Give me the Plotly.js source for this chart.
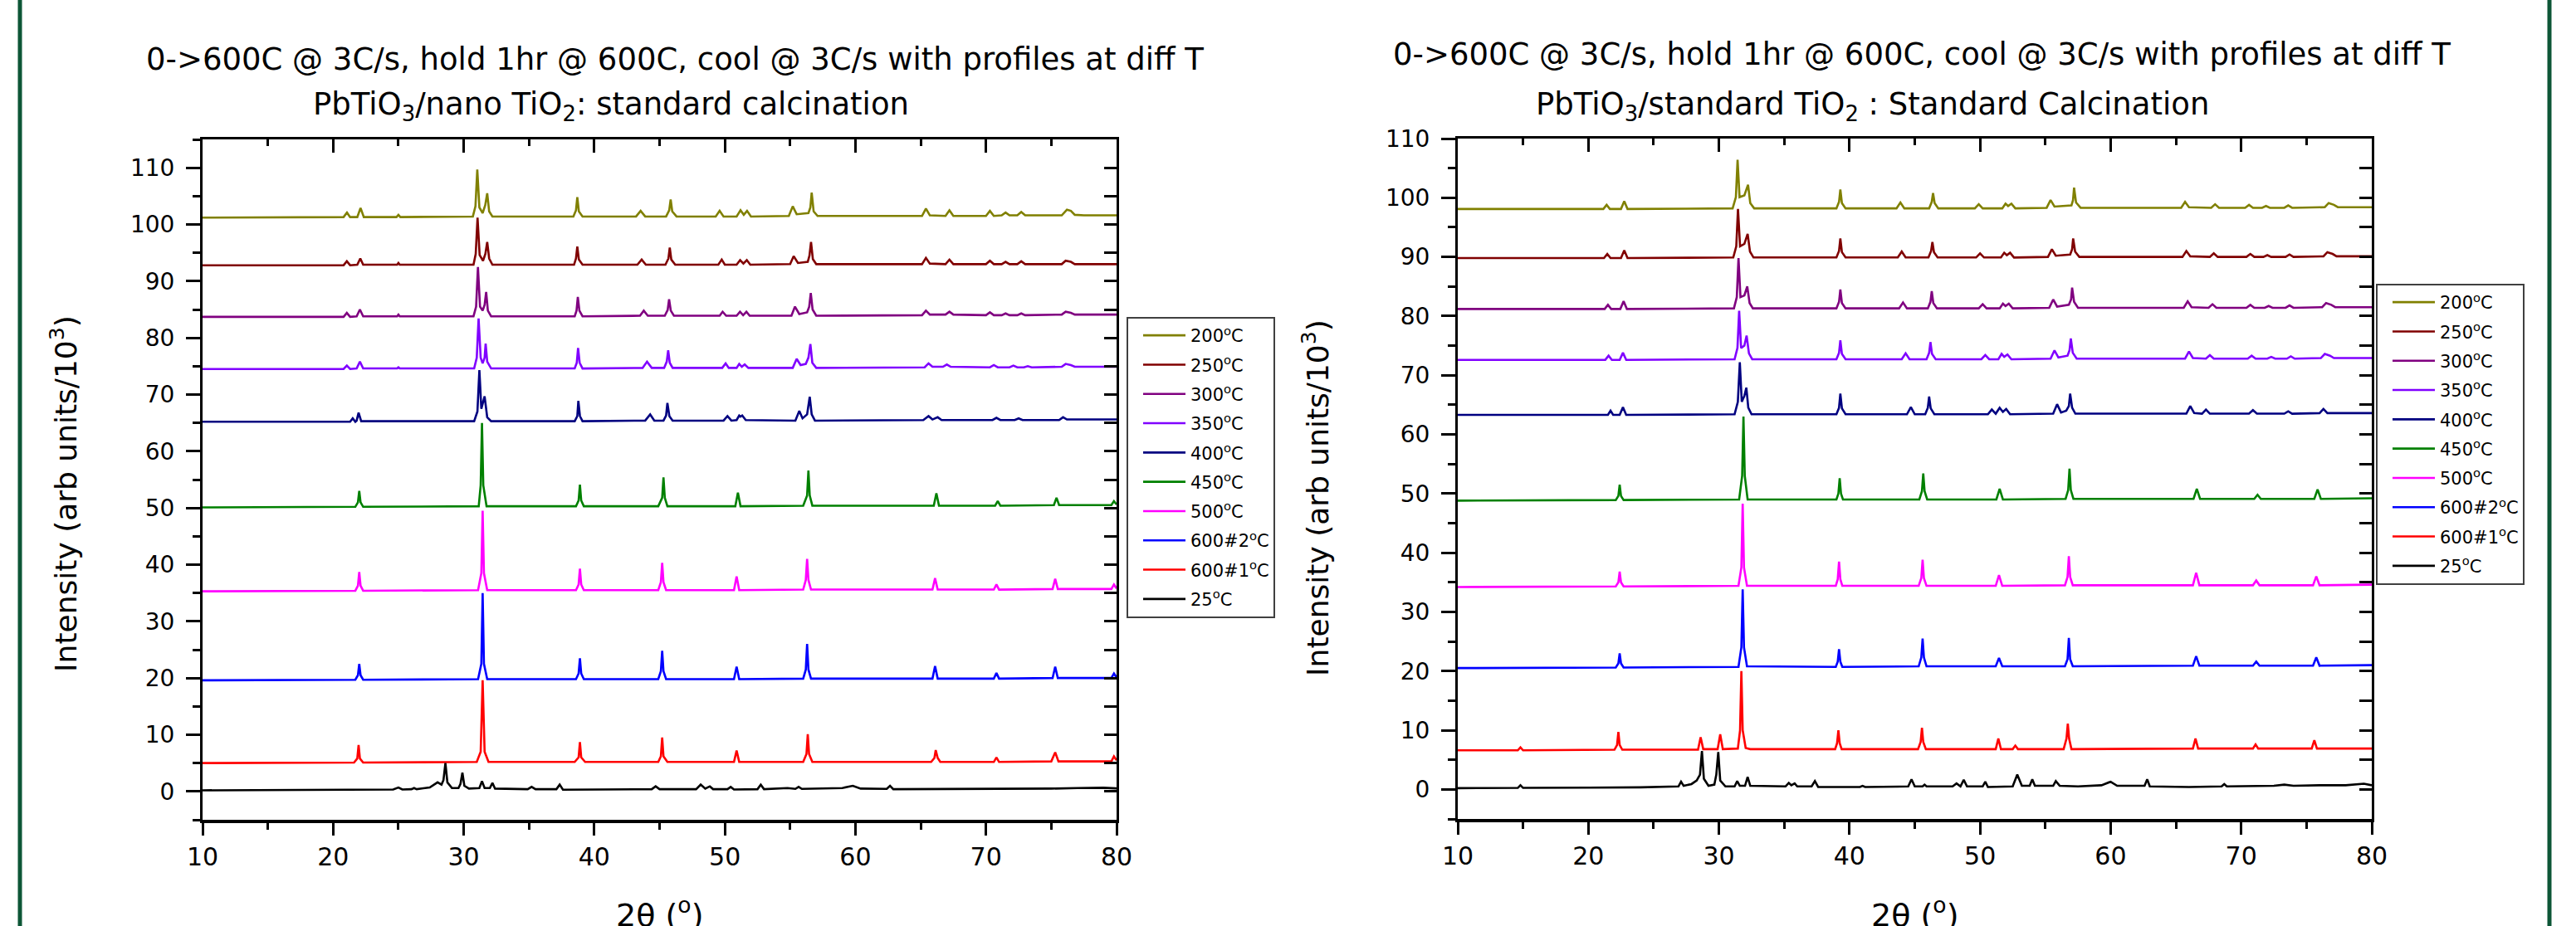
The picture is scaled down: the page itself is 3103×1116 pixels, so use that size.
<!DOCTYPE html>
<html>
<head>
<meta charset="utf-8">
<script src="https://cdn.plot.ly/plotly-3.0.1.min.js"></script>
<style>
  html, body { margin: 0; padding: 0; background: #ffffff; }
  #chart { width: 3103px; height: 1116px; }
</style>
</head>
<body>
<div id="chart"></div>
<script>
// XRD patterns, 2theta (deg) vs intensity (x10^3 counts), offset per temperature step.
// Each profile is a list of [2theta, intensity] points.

const seriesLabels = ['200<sup>o</sup>C', '250<sup>o</sup>C', '300<sup>o</sup>C', '350<sup>o</sup>C', '400<sup>o</sup>C',
                      '450<sup>o</sup>C', '500<sup>o</sup>C', '600#2<sup>o</sup>C', '600#1<sup>o</sup>C', '25<sup>o</sup>C'];
const seriesColors = ['#808000', '#800000', '#800080', '#8000ff', '#000080',
                      '#008000', '#ff00ff', '#0000ff', '#ff0000', '#000000'];

// ---- PbTiO3 / nano TiO2 ----
const nano200 = [[10,101.2],[20.8,101.3],[21.06,102.1],[21.3,101.3],[21.85,101.3],[22.1,102.9],[22.35,101.3],[24.85,101.3],[25.0,101.7],[25.15,101.3],[30.7,101.4],[30.9,103.2],[31.04,109.7],[31.2,103.0],[31.45,102.0],[31.65,103.4],[31.8,105.5],[31.95,102.3],[32.2,101.4],[38.4,101.4],[38.6,102.5],[38.7,104.8],[38.82,102.3],[39.1,101.4],[43.2,101.4],[43.55,102.4],[43.9,101.4],[45.5,101.4],[45.74,102.5],[45.85,104.4],[45.97,102.3],[46.3,101.4],[49.3,101.4],[49.6,102.4],[49.9,101.4],[50.9,101.4],[51.2,102.5],[51.45,101.7],[51.7,102.4],[52.0,101.4],[54.9,101.5],[55.2,103.2],[55.5,101.8],[56.4,102.0],[56.55,103.0],[56.65,105.6],[56.8,102.3],[57.1,101.5],[65.1,101.5],[65.4,102.8],[65.7,101.6],[66.9,101.5],[67.2,102.5],[67.5,101.5],[70.0,101.5],[70.3,102.4],[70.6,101.5],[71.2,101.6],[71.5,102.1],[71.8,101.6],[72.4,101.6],[72.7,102.2],[73.0,101.6],[75.8,101.6],[76.2,102.6],[76.5,102.4],[76.8,101.7],[77.5,101.6],[80,101.6]];
const nano250 = [[10,92.8],[20.8,92.8],[21.05,93.5],[21.3,92.8],[21.85,92.9],[22.08,94.0],[22.3,92.9],[24.9,92.9],[25.0,93.2],[25.1,92.9],[30.75,92.9],[30.92,94.8],[31.06,101.2],[31.22,94.6],[31.48,93.6],[31.66,94.8],[31.8,96.9],[31.95,94.0],[32.2,92.9],[38.45,92.9],[38.6,94.0],[38.7,96.1],[38.82,93.8],[39.1,92.9],[43.3,92.9],[43.63,93.8],[43.95,92.9],[45.45,92.9],[45.68,94.0],[45.78,95.9],[45.9,93.8],[46.2,92.9],[49.5,92.9],[49.76,93.8],[50.0,92.9],[50.9,92.9],[51.17,93.7],[51.42,93.1],[51.68,93.7],[51.95,92.9],[55.0,93.0],[55.27,94.4],[55.6,93.2],[56.35,93.4],[56.48,94.5],[56.6,96.9],[56.74,93.9],[57.0,93.0],[65.1,93.0],[65.4,94.1],[65.7,93.1],[66.9,93.0],[67.2,93.8],[67.5,93.0],[70.0,93.0],[70.3,93.6],[70.6,93.0],[71.2,93.0],[71.5,93.4],[71.8,93.0],[72.4,93.0],[72.7,93.5],[73.0,93.0],[75.8,93.0],[76.1,93.6],[76.5,93.4],[76.8,93.0],[80,93.0]];
const nano300 = [[10,83.7],[20.8,83.7],[21.05,84.4],[21.3,83.7],[21.8,83.8],[22.05,85.0],[22.3,83.8],[24.9,83.8],[25.0,84.1],[25.1,83.8],[30.75,83.8],[30.95,85.5],[31.09,92.5],[31.25,85.5],[31.45,84.8],[31.6,85.8],[31.72,88.1],[31.85,84.8],[32.1,83.8],[38.5,83.8],[38.64,84.8],[38.74,87.2],[38.86,84.8],[39.1,83.8],[43.5,83.9],[43.79,84.8],[44.1,83.9],[45.4,83.9],[45.62,84.9],[45.73,86.8],[45.86,84.8],[46.1,83.9],[49.6,83.9],[49.83,84.6],[50.1,83.9],[50.9,83.9],[51.16,84.6],[51.4,84.0],[51.65,84.6],[51.9,83.9],[55.1,83.9],[55.37,85.5],[55.7,84.2],[56.3,84.5],[56.46,85.5],[56.58,87.9],[56.72,85.0],[57.0,83.9],[65.1,84.0],[65.4,84.8],[65.7,84.1],[66.9,84.1],[67.2,84.6],[67.5,84.1],[70.0,84.0],[70.3,84.5],[70.6,84.0],[71.2,84.0],[71.5,84.3],[71.8,84.0],[72.4,84.0],[72.7,84.3],[73.0,84.0],[75.8,84.1],[76.1,84.6],[76.5,84.4],[76.8,84.1],[80,84.1]];
const nano350 = [[10,74.5],[20.8,74.5],[21.05,75.1],[21.3,74.5],[21.8,74.6],[22.05,75.8],[22.3,74.6],[24.9,74.6],[25.0,74.8],[25.1,74.6],[30.8,74.6],[31.0,76.5],[31.14,83.4],[31.3,76.5],[31.45,75.5],[31.6,76.5],[31.68,79.0],[31.8,75.8],[32.1,74.6],[38.5,74.6],[38.66,75.6],[38.76,78.2],[38.88,75.6],[39.1,74.6],[43.7,74.7],[44.04,75.8],[44.4,74.7],[45.35,74.7],[45.55,75.8],[45.66,77.8],[45.78,75.6],[46.0,74.7],[49.8,74.7],[50.06,75.5],[50.3,74.7],[50.9,74.7],[51.1,75.4],[51.3,74.9],[51.52,75.3],[51.8,74.7],[55.2,74.7],[55.5,76.3],[55.8,75.2],[56.2,75.4],[56.4,76.5],[56.55,78.9],[56.7,75.6],[57.0,74.7],[65.3,74.8],[65.6,75.5],[65.9,74.9],[66.7,74.9],[67.0,75.3],[67.3,74.9],[70.3,74.8],[70.6,75.2],[70.9,74.8],[71.8,74.8],[72.1,75.1],[72.4,74.8],[72.9,74.8],[73.2,75.0],[73.5,74.8],[75.8,74.9],[76.1,75.4],[76.5,75.2],[76.8,74.9],[80,74.9]];
const nano400 = [[10,65.2],[21.3,65.2],[21.5,65.8],[21.7,65.2],[21.8,65.4],[21.95,66.8],[22.15,65.3],[30.8,65.3],[31.05,67.0],[31.2,74.3],[31.35,67.5],[31.6,69.7],[31.8,66.0],[32.1,65.3],[38.5,65.3],[38.7,66.2],[38.78,68.9],[38.9,66.2],[39.1,65.3],[43.9,65.4],[44.28,66.5],[44.6,65.4],[45.3,65.4],[45.5,66.3],[45.6,68.5],[45.75,66.2],[46.0,65.4],[49.9,65.4],[50.2,66.2],[50.5,65.4],[50.9,65.5],[51.1,66.3],[51.2,66.1],[51.33,66.3],[51.6,65.5],[55.4,65.4],[55.7,67.1],[55.95,65.8],[56.3,66.5],[56.5,69.6],[56.65,66.5],[56.9,65.4],[65.2,65.5],[65.6,66.2],[65.9,65.6],[66.3,66.0],[66.6,65.5],[70.5,65.5],[70.8,65.9],[71.1,65.5],[72.2,65.5],[72.5,65.8],[72.8,65.5],[75.6,65.5],[75.9,66.0],[76.2,65.6],[80,65.6]];
const nano450 = [[10,50.1],[21.7,50.2],[21.9,51.0],[22.0,53.0],[22.1,51.0],[22.3,50.2],[31.15,50.3],[31.3,54.0],[31.4,65.0],[31.5,54.0],[31.75,50.3],[38.6,50.3],[38.8,51.3],[38.9,54.1],[39.0,51.3],[39.2,50.3],[44.9,50.3],[45.2,51.8],[45.3,55.4],[45.4,51.8],[45.6,50.3],[50.8,50.3],[51.0,52.7],[51.2,50.3],[56.0,50.4],[56.3,52.2],[56.4,56.6],[56.5,52.2],[56.7,50.4],[66.0,50.4],[66.2,52.6],[66.4,50.4],[70.7,50.4],[70.9,51.2],[71.1,50.4],[75.2,50.5],[75.4,51.8],[75.6,50.5],[79.6,50.5],[79.8,51.2],[80,50.6]];
const nano500 = [[10,35.3],[21.7,35.4],[21.9,36.3],[22.0,38.7],[22.1,36.3],[22.3,35.4],[31.1,35.5],[31.35,38.5],[31.45,49.5],[31.55,38.5],[31.8,35.5],[38.6,35.5],[38.8,36.5],[38.9,39.3],[39.0,36.5],[39.2,35.5],[44.9,35.5],[45.1,36.9],[45.2,40.3],[45.3,36.9],[45.5,35.5],[50.7,35.5],[50.9,37.9],[51.1,35.5],[56.0,35.6],[56.2,37.3],[56.3,41.0],[56.4,37.3],[56.6,35.6],[65.9,35.6],[66.1,37.6],[66.3,35.6],[70.6,35.6],[70.8,36.5],[71.0,35.6],[75.1,35.7],[75.3,37.5],[75.5,35.7],[79.6,35.7],[79.8,36.5],[80,35.8]];
const nano600b = [[10,19.6],[21.7,19.7],[21.9,20.5],[22.0,22.5],[22.1,20.5],[22.3,19.7],[31.1,19.8],[31.35,22.5],[31.45,35.0],[31.55,22.5],[31.8,19.8],[38.6,19.8],[38.8,20.8],[38.9,23.5],[39.0,20.8],[39.2,19.8],[44.9,19.8],[45.1,21.2],[45.2,24.8],[45.3,21.2],[45.5,19.8],[50.7,19.8],[50.9,22.0],[51.1,19.8],[56.0,19.9],[56.2,21.5],[56.3,26.0],[56.4,21.5],[56.6,19.9],[65.9,19.9],[66.1,22.1],[66.3,19.9],[70.6,19.9],[70.8,20.9],[71.0,19.9],[75.1,20.0],[75.3,22.0],[75.5,20.0],[79.6,20.0],[79.8,20.8],[80,20.1]];
const nano600a = [[10,5.0],[21.6,5.1],[21.85,5.8],[21.95,8.2],[22.05,5.8],[22.3,5.1],[31.0,5.2],[31.3,7.0],[31.45,19.6],[31.6,7.0],[31.9,5.2],[38.5,5.2],[38.8,6.0],[38.9,8.7],[39.0,6.0],[39.3,5.2],[44.9,5.2],[45.1,6.2],[45.2,9.5],[45.3,6.2],[45.6,5.2],[50.7,5.2],[50.9,7.2],[51.1,5.2],[56.0,5.2],[56.25,6.6],[56.35,10.1],[56.45,6.6],[56.7,5.2],[65.8,5.2],[66.05,5.9],[66.15,7.3],[66.3,5.9],[66.5,5.2],[70.6,5.2],[70.8,6.0],[71.0,5.2],[75.0,5.3],[75.3,6.9],[75.55,5.3],[79.6,5.3],[79.8,6.2],[80,5.5]];
const nano25 = [[10,0.2],[15,0.25],[20,0.25],[24.6,0.35],[25.0,0.7],[25.3,0.35],[26.0,0.4],[26.2,0.6],[26.4,0.4],[27.4,0.7],[28.0,1.6],[28.3,1.2],[28.45,2.0],[28.6,5.0],[28.75,1.6],[29.1,0.6],[29.6,0.6],[29.75,1.3],[29.9,3.3],[30.05,1.0],[30.4,0.5],[31.2,0.6],[31.4,1.8],[31.6,0.6],[32.0,0.6],[32.2,1.5],[32.4,0.5],[34.9,0.4],[35.2,0.8],[35.5,0.4],[37.1,0.4],[37.35,1.2],[37.6,0.3],[44.4,0.4],[44.7,0.9],[45.0,0.4],[47.8,0.4],[48.15,1.2],[48.5,0.5],[48.85,0.9],[49.1,0.4],[50.2,0.4],[50.45,0.8],[50.7,0.35],[52.5,0.4],[52.75,1.2],[53.0,0.4],[53.6,0.5],[54.3,0.6],[54.8,0.6],[55.4,0.45],[55.65,0.8],[55.9,0.45],[59.0,0.6],[59.8,1.0],[60.4,0.5],[62.4,0.45],[62.65,1.0],[62.9,0.4],[66.0,0.4],[70,0.4],[75,0.5],[77,0.6],[79,0.65],[80,0.55]];

// ---- PbTiO3 / standard TiO2 ----
const std200 = [[10,98.1],[21.15,98.1],[21.4,98.8],[21.65,98.1],[22.5,98.1],[22.75,99.4],[23.0,98.1],[31.05,98.2],[31.3,100.1],[31.43,106.4],[31.58,100.1],[31.95,100.4],[32.23,102.2],[32.4,99.1],[32.7,98.2],[39.0,98.2],[39.2,99.3],[39.3,101.4],[39.42,99.1],[39.7,98.2],[43.6,98.2],[43.9,99.2],[44.2,98.2],[46.1,98.2],[46.3,99.3],[46.4,100.8],[46.52,99.1],[46.8,98.2],[49.6,98.2],[49.9,98.9],[50.2,98.2],[51.7,98.2],[51.95,99.0],[52.15,98.6],[52.4,99.0],[52.7,98.2],[55.1,98.3],[55.4,99.6],[55.7,98.5],[57.0,98.7],[57.12,99.6],[57.2,101.7],[57.35,99.2],[57.7,98.3],[65.4,98.3],[65.7,99.3],[66.0,98.4],[67.7,98.3],[68.0,98.9],[68.3,98.3],[70.3,98.3],[70.6,98.8],[70.9,98.3],[71.6,98.3],[71.9,98.6],[72.2,98.3],[73.3,98.3],[73.6,98.7],[73.9,98.3],[76.4,98.4],[76.7,99.1],[77.1,98.8],[77.4,98.4],[80,98.4]];
const std250 = [[10,89.8],[21.2,89.8],[21.45,90.5],[21.7,89.8],[22.5,89.8],[22.75,91.1],[23.0,89.8],[31.1,89.9],[31.33,91.8],[31.46,98.1],[31.62,91.8],[31.95,92.2],[32.2,93.9],[32.38,90.9],[32.65,89.9],[39.0,89.9],[39.2,91.0],[39.3,93.1],[39.42,90.8],[39.7,89.9],[43.7,89.9],[44.0,90.9],[44.3,89.9],[46.05,89.9],[46.25,91.0],[46.35,92.5],[46.47,90.8],[46.75,89.9],[49.7,89.9],[50.0,90.6],[50.3,89.9],[51.6,89.9],[51.85,90.7],[52.05,90.3],[52.3,90.7],[52.6,89.9],[55.2,90.0],[55.5,91.3],[55.8,90.2],[56.9,90.4],[57.05,91.3],[57.13,93.1],[57.28,90.9],[57.6,90.0],[65.5,90.0],[65.8,91.0],[66.1,90.1],[67.6,90.0],[67.9,90.6],[68.2,90.0],[70.4,90.0],[70.7,90.5],[71.0,90.0],[71.7,90.0],[72.0,90.3],[72.3,90.0],[73.4,90.0],[73.7,90.4],[74.0,90.0],[76.3,90.1],[76.6,90.8],[77.0,90.5],[77.3,90.1],[80,90.1]];
const std300 = [[10,81.2],[21.25,81.2],[21.5,81.9],[21.75,81.2],[22.45,81.2],[22.7,82.5],[22.95,81.2],[31.15,81.3],[31.37,83.2],[31.5,89.8],[31.65,83.2],[31.95,83.5],[32.17,85.0],[32.35,82.2],[32.6,81.3],[39.0,81.3],[39.2,82.4],[39.3,84.5],[39.42,82.2],[39.7,81.3],[43.8,81.3],[44.1,82.3],[44.4,81.3],[46.0,81.3],[46.2,82.4],[46.3,84.2],[46.42,82.2],[46.7,81.3],[49.9,81.3],[50.2,82.0],[50.5,81.3],[51.5,81.3],[51.75,82.1],[51.95,81.7],[52.2,82.1],[52.5,81.3],[55.3,81.4],[55.6,82.8],[55.9,81.6],[56.8,81.9],[56.97,82.8],[57.05,84.8],[57.2,82.4],[57.5,81.4],[65.6,81.4],[65.9,82.5],[66.2,81.5],[67.5,81.4],[67.8,82.0],[68.1,81.4],[70.4,81.4],[70.7,81.9],[71.0,81.4],[71.8,81.4],[72.1,81.7],[72.4,81.4],[73.4,81.4],[73.7,81.8],[74.0,81.4],[76.2,81.5],[76.5,82.2],[76.9,81.9],[77.2,81.5],[80,81.5]];
const std350 = [[10,72.6],[21.3,72.6],[21.55,73.3],[21.8,72.6],[22.4,72.6],[22.65,73.8],[22.9,72.6],[31.2,72.7],[31.42,74.6],[31.55,80.9],[31.7,74.6],[31.95,75.0],[32.12,76.7],[32.3,73.7],[32.55,72.7],[39.0,72.7],[39.2,73.8],[39.3,75.9],[39.42,73.6],[39.7,72.7],[44.0,72.7],[44.3,73.7],[44.6,72.7],[45.9,72.7],[46.1,73.8],[46.2,75.6],[46.32,73.6],[46.6,72.7],[50.1,72.7],[50.4,73.4],[50.7,72.7],[51.4,72.7],[51.65,73.6],[51.85,73.1],[52.1,73.5],[52.4,72.7],[55.4,72.8],[55.7,74.2],[56.0,73.0],[56.7,73.3],[56.85,74.2],[56.95,76.2],[57.1,73.8],[57.4,72.8],[65.7,72.8],[66.0,74.0],[66.3,72.9],[67.3,72.8],[67.6,73.4],[67.9,72.8],[70.5,72.8],[70.8,73.3],[71.1,72.8],[72.0,72.8],[72.3,73.1],[72.6,72.8],[73.5,72.8],[73.8,73.2],[74.1,72.8],[76.1,72.9],[76.4,73.6],[76.8,73.3],[77.1,72.9],[80,72.9]];
const std400 = [[10,63.3],[21.5,63.3],[21.7,64.0],[21.9,63.3],[22.4,63.3],[22.65,64.6],[22.9,63.3],[31.2,63.4],[31.45,65.5],[31.6,72.2],[31.75,65.5],[31.95,66.5],[32.1,67.9],[32.25,64.5],[32.5,63.4],[39.0,63.4],[39.2,64.5],[39.3,66.9],[39.42,64.4],[39.7,63.4],[44.4,63.4],[44.7,64.6],[45.0,63.4],[45.8,63.4],[46.0,64.5],[46.1,66.4],[46.22,64.4],[46.5,63.4],[50.6,63.4],[50.9,64.2],[51.2,63.5],[51.5,64.5],[51.75,63.8],[52.0,64.3],[52.3,63.4],[55.6,63.5],[55.9,65.1],[56.2,63.7],[56.6,64.0],[56.8,64.8],[56.9,66.9],[57.05,64.5],[57.3,63.5],[65.8,63.5],[66.1,64.8],[66.4,63.6],[67.0,63.5],[67.3,64.2],[67.6,63.5],[70.6,63.5],[70.9,64.1],[71.2,63.5],[73.3,63.5],[73.6,63.9],[73.9,63.5],[76.0,63.6],[76.3,64.3],[76.6,63.6],[80,63.6]];
const std450 = [[10,48.8],[22.1,48.9],[22.3,49.6],[22.4,51.5],[22.5,49.6],[22.7,48.9],[31.55,49.0],[31.78,53.0],[31.88,63.0],[31.98,53.0],[32.2,49.0],[39.0,49.0],[39.15,50.0],[39.25,52.6],[39.35,50.0],[39.5,49.0],[45.35,49.0],[45.55,50.4],[45.65,53.4],[45.75,50.4],[45.95,49.0],[51.25,49.0],[51.5,50.8],[51.75,49.0],[56.55,49.1],[56.75,50.6],[56.85,54.2],[56.95,50.6],[57.15,49.1],[66.35,49.1],[66.6,50.8],[66.85,49.1],[71.0,49.1],[71.25,49.8],[71.5,49.1],[75.6,49.1],[75.85,50.7],[76.1,49.1],[80,49.2]];
const std500 = [[10,34.2],[22.1,34.3],[22.3,35.0],[22.4,36.8],[22.5,35.0],[22.7,34.3],[31.5,34.4],[31.72,37.5],[31.82,48.3],[31.92,37.5],[32.15,34.4],[38.95,34.4],[39.1,35.5],[39.2,38.5],[39.3,35.5],[39.45,34.4],[45.3,34.4],[45.5,35.7],[45.6,38.8],[45.7,35.7],[45.9,34.4],[51.2,34.4],[51.45,36.2],[51.7,34.4],[56.5,34.5],[56.7,35.9],[56.8,39.4],[56.9,35.9],[57.1,34.5],[66.3,34.5],[66.55,36.6],[66.8,34.5],[70.9,34.5],[71.15,35.3],[71.4,34.5],[75.5,34.5],[75.75,36.0],[76.0,34.5],[80,34.6]];
const std600b = [[10,20.5],[22.1,20.6],[22.3,21.3],[22.4,23.0],[22.5,21.3],[22.7,20.6],[31.5,20.7],[31.72,24.0],[31.82,33.8],[31.92,24.0],[32.15,20.8],[38.95,20.7],[39.1,21.6],[39.2,23.7],[39.3,21.6],[39.45,20.7],[45.3,20.8],[45.5,22.3],[45.6,25.5],[45.7,22.3],[45.9,20.8],[51.2,20.8],[51.45,22.2],[51.7,20.8],[56.5,20.8],[56.7,22.0],[56.8,25.6],[56.9,22.0],[57.1,20.8],[66.3,20.9],[66.55,22.5],[66.8,20.9],[70.9,20.9],[71.15,21.6],[71.4,20.9],[75.5,20.9],[75.75,22.3],[76.0,20.9],[80,21.0]];
const std600a = [[10,6.6],[14.6,6.6],[14.8,7.1],[15.0,6.6],[22.0,6.7],[22.2,7.5],[22.3,9.7],[22.4,7.5],[22.6,6.7],[28.4,6.7],[28.6,8.8],[28.8,6.8],[29.9,6.8],[30.1,9.3],[30.3,6.8],[31.45,6.9],[31.62,10.0],[31.72,20.0],[31.82,10.0],[32.05,7.0],[32.4,6.8],[38.9,6.8],[39.05,7.8],[39.15,10.0],[39.25,7.8],[39.4,6.8],[45.25,6.8],[45.45,8.0],[45.55,10.4],[45.65,8.0],[45.85,6.8],[51.2,6.8],[51.4,8.6],[51.6,6.8],[52.5,6.8],[52.7,7.4],[52.9,6.8],[56.4,6.8],[56.62,8.6],[56.72,11.1],[56.82,8.6],[57.0,6.8],[66.3,6.9],[66.5,8.6],[66.7,6.9],[70.9,6.9],[71.1,7.6],[71.3,6.9],[75.4,6.9],[75.6,8.3],[75.8,6.9],[80,6.9]];
const std25 = [[10,0.2],[14.6,0.25],[14.8,0.7],[15.0,0.25],[20,0.3],[24,0.35],[26.9,0.5],[27.1,1.3],[27.3,0.6],[27.9,0.9],[28.3,1.5],[28.55,2.5],[28.7,6.5],[28.85,1.8],[29.2,0.6],[29.65,0.8],[29.8,2.5],[29.95,6.3],[30.1,1.5],[30.5,0.5],[31.2,0.5],[31.4,1.4],[31.6,0.6],[32.0,0.6],[32.2,2.1],[32.4,0.6],[35.1,0.5],[35.35,1.1],[35.55,0.7],[35.8,1.0],[36.0,0.5],[37.1,0.5],[37.35,1.4],[37.6,0.4],[40.8,0.4],[41.0,0.6],[41.2,0.4],[44.5,0.5],[44.75,1.7],[45.0,0.5],[45.6,0.5],[45.75,0.8],[45.9,0.5],[47.9,0.5],[48.2,1.0],[48.5,0.5],[48.75,1.6],[49.0,0.5],[50.2,0.5],[50.4,1.3],[50.6,0.4],[52.5,0.5],[52.85,2.5],[53.2,0.6],[53.8,0.6],[54.0,1.7],[54.2,0.6],[55.6,0.6],[55.8,1.4],[56.1,0.6],[57.5,0.5],[59.3,0.7],[60.0,1.3],[60.5,0.6],[62.6,0.6],[62.8,1.7],[63.0,0.5],[66.0,0.4],[68.5,0.5],[68.7,0.9],[68.9,0.5],[72.5,0.6],[73.3,0.8],[74.0,0.6],[76,0.7],[78,0.7],[79.4,0.95],[80,0.7]];

const nanoSeries = [nano200, nano250, nano300, nano350, nano400, nano450, nano500, nano600b, nano600a, nano25];
const stdSeries  = [std200, std250, std300, std350, std400, std450, std500, std600b, std600a, std25];

const panelTitles = [
  ['0->600C @ 3C/s, hold 1hr @ 600C, cool @ 3C/s with profiles at diff T',
   'PbTiO<sub>3</sub>/nano TiO<sub>2</sub>: standard calcination'],
  ['0->600C @ 3C/s, hold 1hr @ 600C, cool @ 3C/s with profiles at diff T',
   'PbTiO<sub>3</sub>/standard TiO<sub>2</sub> : Standard Calcination']
];
const xTitle = '2\u03b8 (<sup>o</sup>)';
const yTitle = 'Intensity (arb units/10<sup>3</sup>)';

// ---- page geometry (pixels) ----
const W = 3103, H = 1116;
const FONT = 'DejaVu Sans, Liberation Sans, Arial, sans-serif';
const px = v => v / W;
const py = v => (H - v) / H;

function profileTraces(list, xa, ya, legendName, prefix) {
  return list.map((pts, i) => ({
    type: 'scatter', mode: 'lines',
    x: pts.map(p => p[0]), y: pts.map(p => p[1]),
    name: seriesLabels[i],
    legend: legendName,
    legendgroup: prefix + i,
    xaxis: xa, yaxis: ya,
    line: { color: seriesColors[i], width: 2.6 },
    hoverinfo: 'skip'
  }));
}

const traces = [
  ...profileTraces(nanoSeries, 'x', 'y', 'legend', 'n'),
  ...profileTraces(stdSeries, 'x2', 'y2', 'legend2', 's'),
  // empty traces that carry the mirrored (top / right) frame axes
  { type: 'scatter', x: [], y: [], xaxis: 'x3', yaxis: 'y3', showlegend: false, hoverinfo: 'skip' },
  { type: 'scatter', x: [], y: [], xaxis: 'x4', yaxis: 'y4', showlegend: false, hoverinfo: 'skip' }
];

const dom1x = [px(244), px(1345)], dom1y = [py(988), py(168)];
const dom2x = [px(1756), px(2857)], dom2y = [py(987), py(167)];

function bottomAxis(domain, anchor) {
  return {
    domain, anchor, range: [10, 80], tick0: 0, dtick: 10,
    showline: true, linewidth: 3.5, linecolor: '#000', mirror: false,
    ticks: 'outside', ticklen: 15, tickwidth: 3, tickcolor: '#000',
    minor: { dtick: 5, ticks: 'outside', ticklen: 8, tickwidth: 3, tickcolor: '#000' },
    tickfont: { family: FONT, size: 30, color: '#000' },
    showgrid: false, zeroline: false, fixedrange: true
  };
}
function leftAxis(domain, anchor, range) {
  return {
    domain, anchor, range, tick0: 0, dtick: 10,
    showline: true, linewidth: 3, linecolor: '#000',
    ticks: 'outside', ticklen: 17, tickwidth: 3, tickcolor: '#000',
    minor: { dtick: 5, ticks: 'outside', ticklen: 9, tickwidth: 3, tickcolor: '#000' },
    tickfont: { family: FONT, size: 28, color: '#000' },
    ticklabelstandoff: 8,
    showgrid: false, zeroline: false, fixedrange: true
  };
}
function topAxis(over, anchor) {
  return {
    overlaying: over, anchor, side: 'top', range: [10, 80], tick0: 0, dtick: 10,
    showline: true, linewidth: 3.5, linecolor: '#000',
    ticks: 'inside', ticklen: 16, tickwidth: 3, tickcolor: '#000',
    minor: { dtick: 5, ticks: 'inside', ticklen: 8, tickwidth: 3, tickcolor: '#000' },
    showticklabels: false, showgrid: false, zeroline: false, fixedrange: true
  };
}
function rightAxis(over, anchor, range) {
  return {
    overlaying: over, anchor, side: 'right', range, tick0: 0, dtick: 10,
    showline: true, linewidth: 3, linecolor: '#000',
    ticks: 'inside', ticklen: 15, tickwidth: 3, tickcolor: '#000',
    minor: { dtick: 5, ticks: 'inside', ticklen: 15, tickwidth: 3, tickcolor: '#000' },
    showticklabels: false, showgrid: false, zeroline: false, fixedrange: true
  };
}

function textAt(text, x, y, size, angle) {
  return {
    text, xref: 'paper', yref: 'paper', x: px(x), y: py(y),
    xanchor: 'center', yanchor: 'middle', showarrow: false,
    textangle: angle || 0,
    font: { family: FONT, size, color: '#000' }
  };
}

const legendBase = {
  xanchor: 'left', yanchor: 'top',
  bgcolor: '#ffffff', bordercolor: '#404040', borderwidth: 2,
  font: { family: FONT, size: 21, color: '#000' },
  tracegroupgap: 5, itemwidth: 65, traceorder: 'grouped'
};

const layout = {
  width: W, height: H,
  margin: { l: 0, r: 0, t: 0, b: 0, pad: 0 },
  paper_bgcolor: '#ffffff', plot_bgcolor: '#ffffff',
  font: { family: FONT, color: '#000' },
  showlegend: true,
  xaxis: bottomAxis(dom1x, 'y'),
  yaxis: leftAxis(dom1y, 'x', [-5, 115]),
  xaxis2: bottomAxis(dom2x, 'y2'),
  yaxis2: leftAxis(dom2y, 'x2', [-5, 110]),
  xaxis3: topAxis('x', 'y'),
  yaxis3: rightAxis('y', 'x', [-5, 115]),
  xaxis4: topAxis('x2', 'y2'),
  yaxis4: rightAxis('y2', 'x2', [-5, 110]),
  legend: Object.assign({ x: px(1357), y: py(382) }, legendBase),
  legend2: Object.assign({ x: px(2862), y: py(342) }, legendBase),
  annotations: [
    textAt(panelTitles[0][0], 813, 71, 37),
    textAt(panelTitles[0][1], 736, 128, 37),
    textAt(panelTitles[1][0], 2315, 65, 37),
    textAt(panelTitles[1][1], 2255, 128, 37),
    textAt(yTitle, 77, 595, 36, -90),
    textAt(yTitle, 1585, 600, 36, -90),
    textAt(xTitle, 794, 1100, 38),
    textAt(xTitle, 2306, 1100, 38)
  ],
  shapes: [
    { type: 'line', xref: 'paper', yref: 'paper', x0: px(24), x1: px(24), y0: 0, y1: 1,
      line: { color: '#0d5636', width: 5 } },
    { type: 'line', xref: 'paper', yref: 'paper', x0: px(3071), x1: px(3071), y0: 0, y1: 1,
      line: { color: '#0d5636', width: 5 } }
  ]
};

// longer line samples in both legend boxes
function stretchLegendLines() {
  document.querySelectorAll('g.legendlines path').forEach(p => {
    p.setAttribute('d', 'M18,0h51');
  });
}

Plotly.newPlot('chart', traces, layout, { staticPlot: true, displayModeBar: false }).then(gd => {
  stretchLegendLines();
  gd.on('plotly_afterplot', stretchLegendLines);
  setTimeout(stretchLegendLines, 50);
});
</script>
</body>
</html>
